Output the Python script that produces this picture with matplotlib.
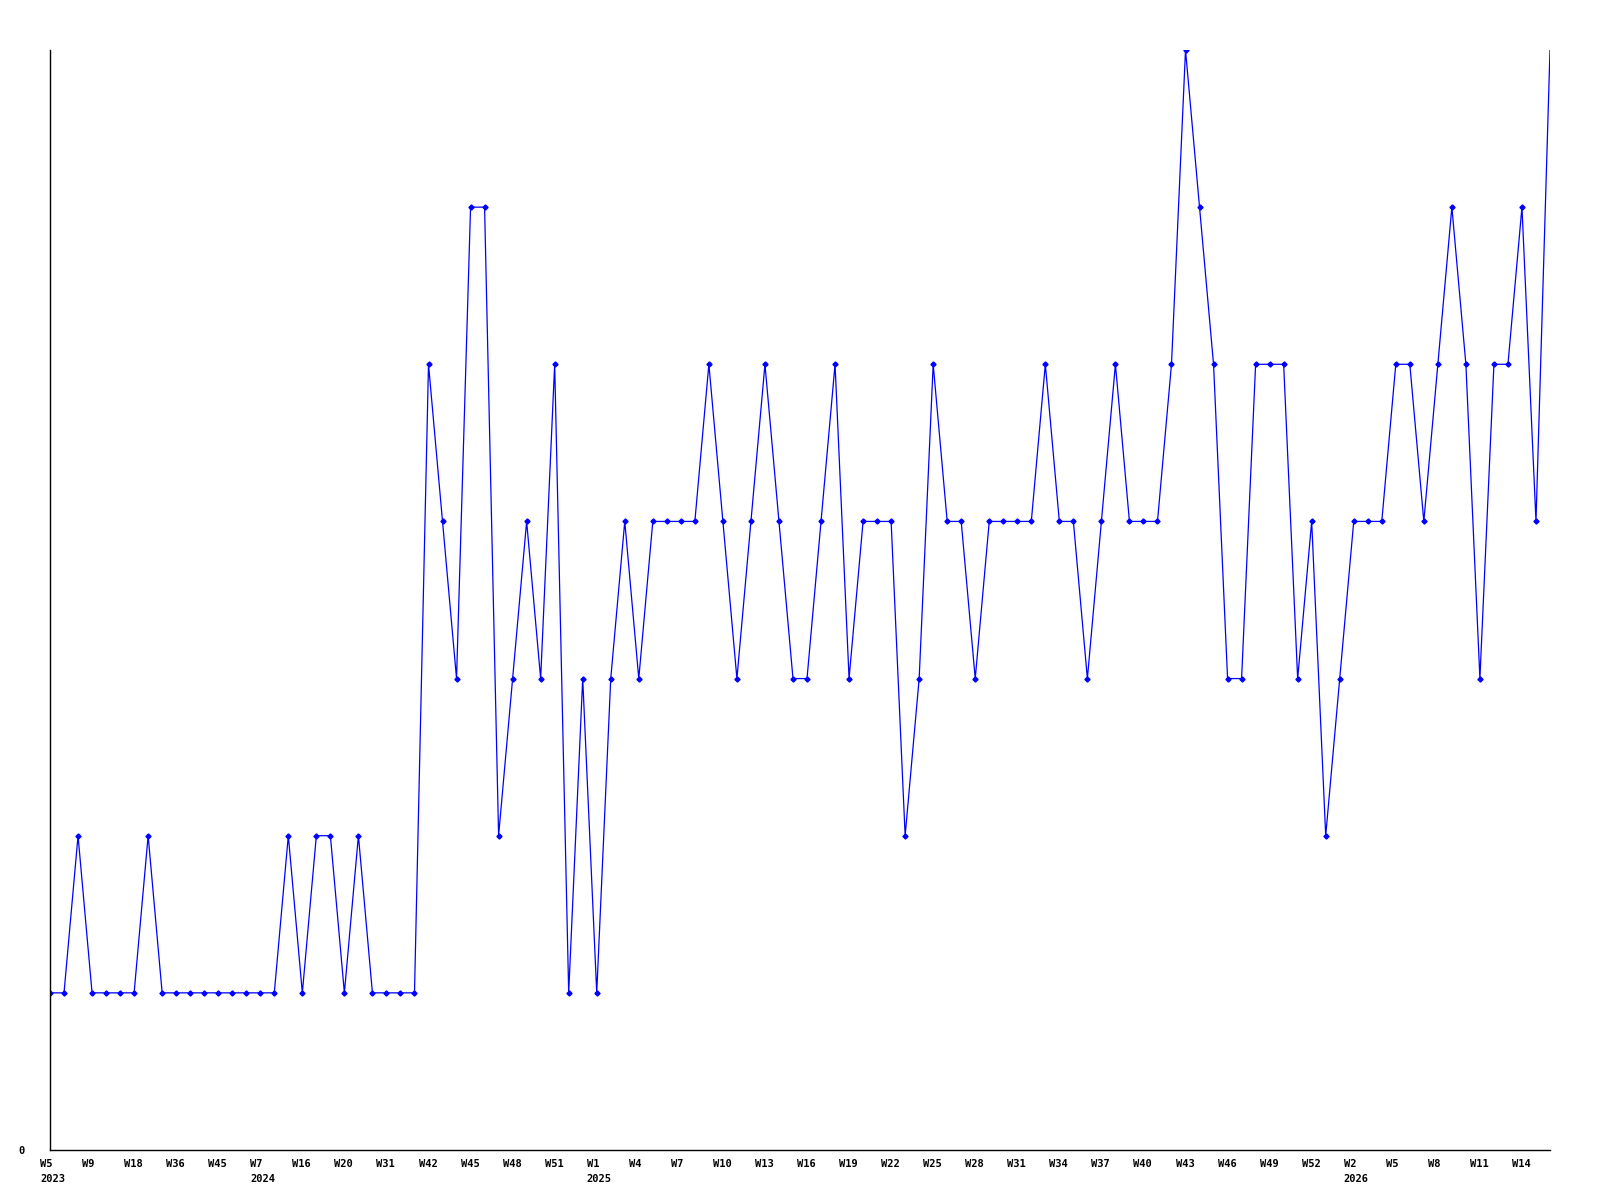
import matplotlib.pyplot as plt

# weekly counts
values = [1, 1, 2, 1, 1, 1, 1, 2, 1, 1,
          1, 1, 1, 1, 1, 1, 1, 2, 1, 2,
          2, 1, 2, 1, 1, 1, 1, 5, 4, 3,
          6, 6, 2, 3, 4, 3, 5, 1, 3, 1,
          3, 4, 3, 4, 4, 4, 4, 5, 4, 3,
          4, 5, 4, 3, 3, 4, 5, 3, 4, 4,
          4, 2, 3, 5, 4, 4, 3, 4, 4, 4,
          4, 5, 4, 4, 3, 4, 5, 4, 4, 4,
          5, 7, 6, 5, 3, 3, 5, 5, 5, 3,
          4, 2, 3, 4, 4, 4, 5, 5, 4, 5,
          6, 5, 3, 5, 5, 6, 4, 7]

# labelled weeks (every third point) and the year shown under the first of each year
week_labels = ["W5", "W9", "W18", "W36", "W45", "W7", "W16", "W20", "W31", "W42",
               "W45", "W48", "W51", "W1", "W4", "W7", "W10", "W13", "W16", "W19",
               "W22", "W25", "W28", "W31", "W34", "W37", "W40", "W43", "W46", "W49",
               "W52", "W2", "W5", "W8", "W11", "W14"]
year_labels = {0: "2023", 5: "2024", 13: "2025", 31: "2026"}

fig = plt.figure(figsize=(16, 12), dpi=100)
ax = fig.add_axes([50 / 1600, 50 / 1200, 1500 / 1600, 1100 / 1200])

x = list(range(len(values)))
ax.plot(x, values, color="#0000ff", linewidth=0.9, marker="D", markersize=2.6,
        markevery=list(range(len(values) - 1)))

ax.set_xlim(0, len(values) - 1)
ax.set_ylim(0, 7)

# week labels sit a little left of their point, year underneath
font = dict(fontfamily="DejaVu Sans Mono", fontweight="bold", fontsize=7.5)
tick_pos = list(range(0, len(values), 3))
for i, w in enumerate(week_labels):
    text = w + "\n" + year_labels[i] if i in year_labels else w
    ax.annotate(text, xy=(tick_pos[i], 0), xycoords=("data", "axes fraction"),
                xytext=(-7.2, -6.5), textcoords="offset points",
                ha="left", va="top", multialignment="left", linespacing=1.6,
                annotation_clip=False, **font)

ax.set_xticks([])
ax.set_yticks([0])
ax.set_yticklabels(["0"], **font)

ax.tick_params(length=0)
ax.tick_params(axis="y", pad=18)
ax.spines["top"].set_visible(False)
ax.spines["right"].set_visible(False)
ax.spines["left"].set_linewidth(1.0)
ax.spines["bottom"].set_linewidth(1.0)

plt.savefig("out.png", dpi=100)
